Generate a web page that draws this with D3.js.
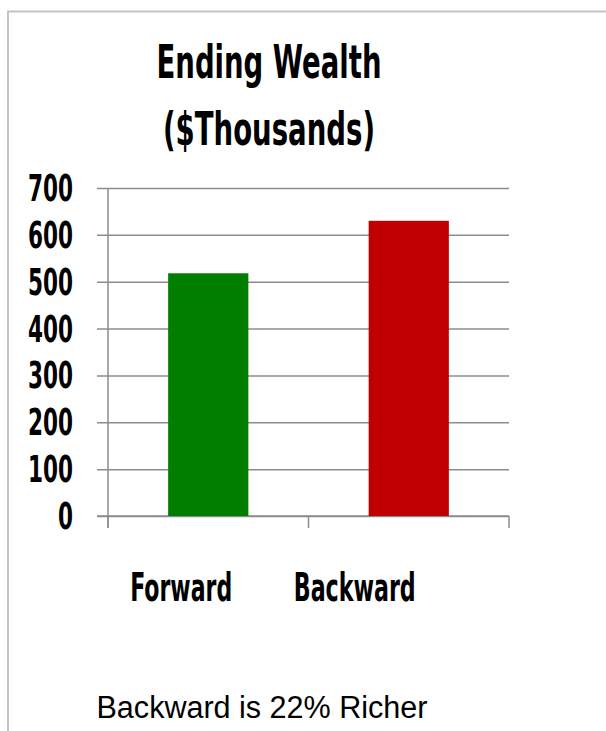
<!DOCTYPE html>
<html>
<head>
<meta charset="utf-8">
<script src="https://cdn.jsdelivr.net/npm/d3@7"></script>
<style>
  body { margin: 0; background: #fff; }
  text { fill: #000; }
</style>
</head>
<body>
<div id="bar_chart"></div>
<script>

var categories = ["Forward", "Backward"];
var wealth = [518, 630];
var barColors = ["#007e00", "#c00000"];
var yTicks = [0, 100, 200, 300, 400, 500, 600, 700];
var titleLines = ["Ending Wealth", "($Thousands)"];
var note = "Backward is 22% Richer";

plot_bar_graph("#bar_chart");

function plot_bar_graph (htmlObjectId) {
    var width = 606;
    var height = 731;
    var left = 108, right = 509, top = 188, bottom = 516;
    var boldFont = "'Liberation Sans Narrow', 'DejaVu Sans Condensed', 'Roboto Condensed', 'Liberation Sans', sans-serif";

    var canvas = d3.select(htmlObjectId)
                    .append("svg")
                    .attr("width", width)
                    .attr("height", height);

    // frame (cropped at right and bottom)
    canvas.append("path")
          .attr("d", "M8," + height + " V11.5 H" + width)
          .attr("fill", "none")
          .attr("stroke", "#c4c4c4")
          .attr("stroke-width", 2);

    var x = d3.scaleBand()
                .domain(categories)
                .range([left, right])
                .paddingInner(0.6)
                .paddingOuter(0.3);

    var y = d3.scaleLinear()
                .domain([0, 700])
                .range([bottom, top]);

    // gridlines + y ticks
    var yAxis = d3.axisLeft(y)
                .tickValues(yTicks)
                .tickSize(-(right - left))
                .tickFormat("");

    var gy = canvas.append("g")
              .attr("transform", "translate(" + left + ",0)")
              .call(yAxis);
    gy.select(".domain").remove();
    gy.selectAll(".tick line")
        .attr("x1", -11)
        .attr("stroke", "#8c8c8c")
        .attr("stroke-width", 1.5);

    // y tick labels
    canvas.selectAll(".ylab")
          .data(yTicks)
          .enter()
            .append("text")
            .attr("class", "ylab")
            .attr("x", 73)
            .attr("y", function(d) { return y(d) + 13; })
            .attr("text-anchor", "end")
            .attr("font-family", boldFont)
            .attr("font-weight", "bold")
            .attr("font-size", 37)
            .attr("textLength", function(d) { return d === 0 ? 15 : 45; })
            .attr("lengthAdjust", "spacingAndGlyphs")
            .text(function(d) { return d; });

    // y axis line
    canvas.append("line")
          .attr("x1", left).attr("x2", left)
          .attr("y1", top).attr("y2", bottom + 12)
          .attr("stroke", "#8c8c8c")
          .attr("stroke-width", 1.5);

    // x axis with category boundary ticks
    var step = x.step();
    var bounds = [left, left + step, left + 2 * step];
    canvas.append("line")
          .attr("x1", left - 11).attr("x2", right)
          .attr("y1", bottom).attr("y2", bottom)
          .attr("stroke", "#8c8c8c")
          .attr("stroke-width", 1.5);
    canvas.selectAll(".xtick")
          .data(bounds)
          .enter()
            .append("line")
            .attr("class", "xtick")
            .attr("x1", function(d) { return d; })
            .attr("x2", function(d) { return d; })
            .attr("y1", bottom)
            .attr("y2", bottom + 12)
            .attr("stroke", "#8c8c8c")
            .attr("stroke-width", 1.5);

    // bars
    canvas.selectAll("rect.bar")
          .data(wealth)
          .enter()
            .append("rect")
            .attr("class", "bar")
            .attr("x", function(d, i) { return x(categories[i]); })
            .attr("y", function(d) { return y(d); })
            .attr("width", x.bandwidth())
            .attr("height", function(d) { return y(0) - y(d); })
            .attr("fill", function(d, i) { return barColors[i]; });

    // category labels (shifted left of bar centres, as in the original)
    var catWidths = [102, 122];
    var catShift = [-27, -54];
    canvas.selectAll(".xlab")
          .data(categories)
          .enter()
            .append("text")
            .attr("class", "xlab")
            .attr("x", function(d, i) { return x(d) + x.bandwidth() / 2 + catShift[i]; })
            .attr("y", 601)
            .attr("text-anchor", "middle")
            .attr("font-family", boldFont)
            .attr("font-weight", "bold")
            .attr("font-size", 39)
            .attr("textLength", function(d, i) { return catWidths[i]; })
            .attr("lengthAdjust", "spacingAndGlyphs")
            .text(function(d) { return d; });

    // title
    var titleWidths = [225, 212];
    canvas.selectAll(".title")
          .data(titleLines)
          .enter()
            .append("text")
            .attr("class", "title")
            .attr("x", 269)
            .attr("y", function(d, i) { return 78 + i * 67; })
            .attr("text-anchor", "middle")
            .attr("font-family", boldFont)
            .attr("font-weight", "bold")
            .attr("font-size", 47)
            .attr("textLength", function(d, i) { return titleWidths[i]; })
            .attr("lengthAdjust", "spacingAndGlyphs")
            .text(function(d) { return d; });

    // footnote
    canvas.append("text")
          .attr("x", 262)
          .attr("y", 718)
          .attr("text-anchor", "middle")
          .attr("font-family", "'Liberation Sans', Arial, sans-serif")
          .attr("font-size", 31)
          .attr("textLength", 331)
          .attr("lengthAdjust", "spacingAndGlyphs")
          .text(note);
}
</script>
</body>
</html>
